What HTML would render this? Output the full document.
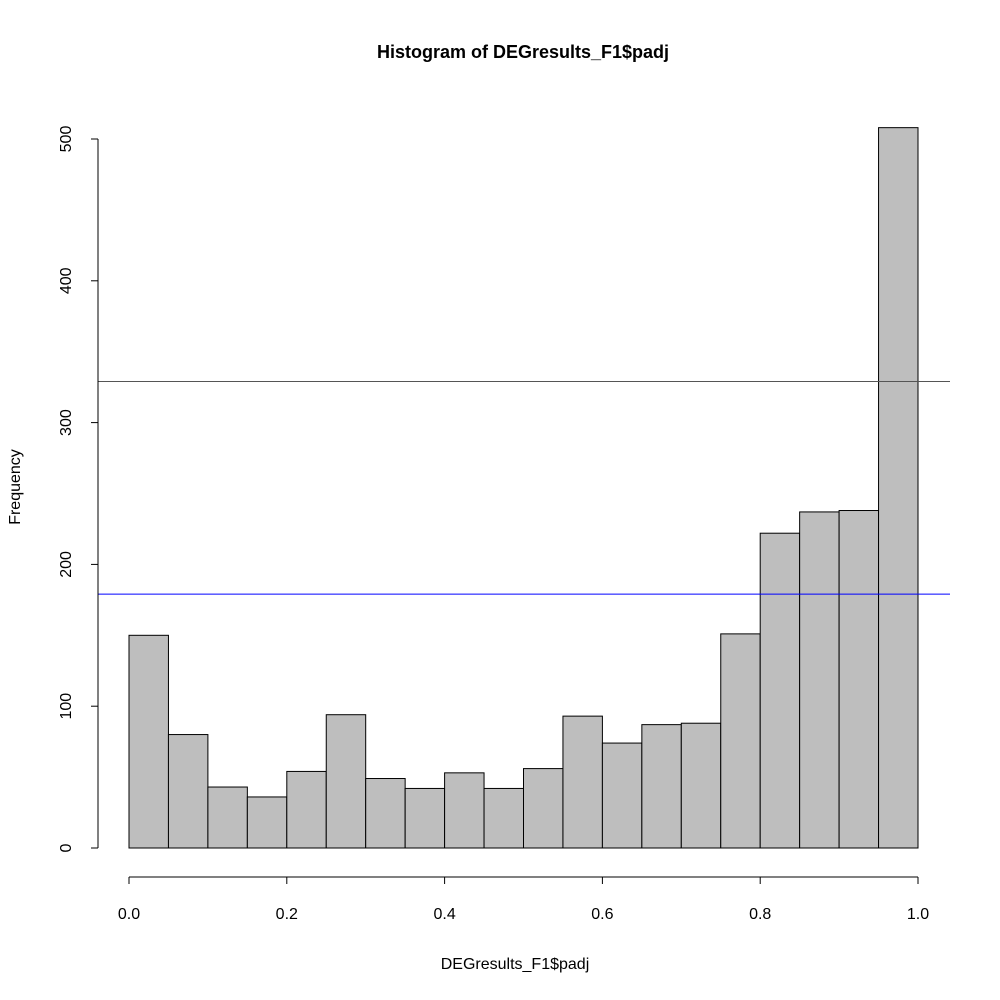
<!DOCTYPE html>
<html><head><meta charset="utf-8"><style>
html,body{margin:0;padding:0;background:#fff;}
svg{display:block;font-family:"Liberation Sans",Arial,sans-serif;}
</style></head><body>
<svg id="chart" width="1000" height="1000" viewBox="0 0 1000 1000">
<text x="523" y="58" text-anchor="middle" font-size="18" font-weight="bold">Histogram of DEGresults_F1$padj</text>
<text x="515" y="969" text-anchor="middle" font-size="16">DEGresults_F1$padj</text>
<text transform="translate(20,487) rotate(-90)" text-anchor="middle" font-size="16">Frequency</text>
<g id="bars"></g><g id="hlines"></g><g id="xaxis"></g><g id="yaxis"></g>
</svg>
<script>
const binStarts = [0,0.05,0.1,0.15,0.2,0.25,0.3,0.35,0.4,0.45,0.5,0.55,0.6,0.65,0.7,0.75,0.8,0.85,0.9,0.95];
const counts = [150,80,43,36,54,94,49,42,53,42,56,93,74,87,88,151,222,237,238,508];
const binWidth = 0.05;
const xTicks = [0,0.2,0.4,0.6,0.8,1.0];
const xTickLabels = ["0.0","0.2","0.4","0.6","0.8","1.0"];
const yTicks = [0,100,200,300,400,500];
const hlineValues = [329,179];
const hlineColors = ["#555555","#0000ff"];

const NS="http://www.w3.org/2000/svg";
const xs = v => 129 + v*789;
const ys = v => 848 - v*1.418;
function mk(tag, attrs, parent){const e=document.createElementNS(NS,tag);for(const k in attrs)e.setAttribute(k,attrs[k]);parent.appendChild(e);return e;}

const gb=document.getElementById('bars');
counts.forEach((c,i)=>{
  const x0=xs(binStarts[i]), x1=xs(binStarts[i]+binWidth);
  const r=mk('rect',{x:x0,y:ys(c),width:x1-x0,height:ys(0)-ys(c),fill:'#bebebe',stroke:'#000','stroke-width':1},gb);
  
  
});
const gh=document.getElementById('hlines');
hlineValues.forEach((v,i)=>{
  const l=mk('line',{x1:98,x2:950,y1:ys(v),y2:ys(v),stroke:hlineColors[i],'stroke-width':1},gh);
  
  
});
const gx=document.getElementById('xaxis');
const xl=mk('line',{x1:xs(xTicks[0]),x2:xs(xTicks[xTicks.length-1]),y1:877,y2:877,stroke:'#000'},gx);


xTicks.forEach((t,i)=>{
  const tk=mk('line',{x1:xs(t),x2:xs(t),y1:877,y2:884,stroke:'#000'},gx);
  
  
  const tx=mk('text',{x:xs(t),y:919,'text-anchor':'middle','font-size':16},gx);
  tx.textContent=xTickLabels[i];
  
  
});
const gy=document.getElementById('yaxis');
const yl=mk('line',{x1:98,x2:98,y1:ys(yTicks[0]),y2:ys(yTicks[yTicks.length-1]),stroke:'#000'},gy);


yTicks.forEach(t=>{
  const tk=mk('line',{x1:91,x2:98,y1:ys(t),y2:ys(t),stroke:'#000'},gy);
  
  
  const tx=mk('text',{transform:`translate(71,${ys(t)}) rotate(-90)`,'text-anchor':'middle','font-size':16},gy);
  tx.textContent=String(t);
  
  
});
</script>
</body></html>
